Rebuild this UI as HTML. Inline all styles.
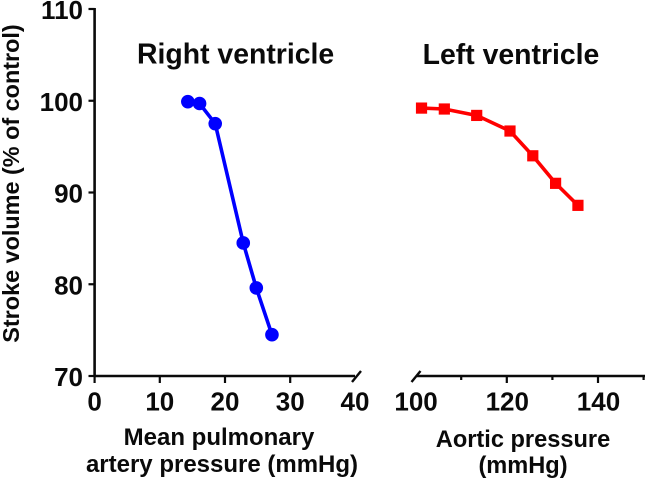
<!DOCTYPE html>
<html>
<head>
<meta charset="utf-8">
<style>
html,body{margin:0;padding:0;background:#fff;}
svg{display:block;}
text{font-family:"Liberation Sans",sans-serif;font-weight:bold;fill:#0a0a0a;}
</style>
</head>
<body>
<svg id="chart" width="645" height="480" viewBox="0 0 645 480" xmlns="http://www.w3.org/2000/svg">
<text transform="translate(19,183.5) rotate(-90)" text-anchor="middle" font-size="23.4">Stroke volume (% of control)</text>
<text x="137" y="63.5" font-size="28.4">Right ventricle</text>
<text x="511" y="64" text-anchor="middle" font-size="28.4">Left ventricle</text>
<text x="219" y="445" text-anchor="middle" font-size="24">Mean pulmonary</text>
<text x="222" y="472" text-anchor="middle" font-size="24">artery pressure (mmHg)</text>
<text x="523" y="447" text-anchor="middle" font-size="23.6">Aortic pressure</text>
<text x="523" y="473" text-anchor="middle" font-size="23.6">(mmHg)</text>
</svg>
<script>
var yTicks = [70, 80, 90, 100, 110];
var rightXTicks = [0, 10, 20, 30, 40];
var leftXMajorTicks = [100, 120, 140];
var leftXMinorTicks = [110, 130, 150];
var rvPressure = [14.3, 16.1, 18.5, 22.8, 24.8, 27.2];
var rvStrokeVolume = [99.9, 99.7, 97.5, 84.5, 79.6, 74.5];
var lvPressure = [101.3, 106.3, 113.4, 120.7, 125.7, 130.7, 135.6];
var lvStrokeVolume = [99.2, 99.1, 98.4, 96.7, 94.0, 91.0, 88.6];

var NS = 'http://www.w3.org/2000/svg';
var svg = document.getElementById('chart');
function yScale(v) { return 376 - (v - 70) * 9.175; }
function xRight(v) { return 94.6 + v * 6.52; }
function xLeft(v) { return 415.6 + (v - 100) * 4.56; }
function make(tag, attrs, text) {
  var el = document.createElementNS(NS, tag);
  for (var k in attrs) el.setAttribute(k, attrs[k]);
  if (text !== undefined) el.textContent = text;
  svg.appendChild(el);
  return el;
}
function stroke(x1, y1, x2, y2, w, color) {
  return make('line', {x1: x1, y1: y1, x2: x2, y2: y2, stroke: color || '#0a0a0a', 'stroke-width': w});
}
var el;

el = stroke(94.6, 8, 94.6, 377, 2.6);


el = stroke(94.6, 376, 355, 376, 2.4);


el = stroke(352, 382, 361, 371, 2.4);


el = stroke(417, 376, 645, 376, 2.4);


el = stroke(411.5, 382, 420.5, 371, 2.4);



yTicks.forEach(function (t) {
  var y = yScale(t);
  var mark = stroke(88.5, y, 94.6, y, 2.2);
  
  
  var label = make('text', {x: 83, y: y + 10, 'text-anchor': 'end', 'font-size': 26}, String(t));
  
  
});

rightXTicks.forEach(function (t) {
  var x = xRight(t);
  if (t !== 40) {
    var mark = stroke(x, 376, x, 383, 2.2);
    
    
  }
  var label = make('text', {x: t === 40 ? 355 : x, y: 410.5, 'text-anchor': 'middle', 'font-size': 26}, String(t));
  
  
});

leftXMajorTicks.forEach(function (t) {
  var x = xLeft(t);
  if (t !== 100) {
    var mark = stroke(x, 376, x, 383, 2.2);
    
    
  }
  var label = make('text', {x: x + 0.5, y: 410.5, 'text-anchor': 'middle', 'font-size': 26}, String(t));
  
  
});

leftXMinorTicks.forEach(function (t) {
  var x = xLeft(t);
  var mark = stroke(x, 376, x, 380, 2.2);
  
  
});

var rvPoints = rvPressure.map(function (p, i) { return xRight(p) + ',' + yScale(rvStrokeVolume[i]); }).join(' ');
el = make('polyline', {points: rvPoints, fill: 'none', stroke: '#0000ff', 'stroke-width': 3.6});


rvPressure.forEach(function (p, i) {
  var dot = make('circle', {cx: xRight(p), cy: yScale(rvStrokeVolume[i]), r: 6.8, fill: '#0000ff'});
  
  
});

var lvPoints = lvPressure.map(function (p, i) { return xLeft(p) + ',' + yScale(lvStrokeVolume[i]); }).join(' ');
el = make('polyline', {points: lvPoints, fill: 'none', stroke: '#ff0000', 'stroke-width': 3.6});


lvPressure.forEach(function (p, i) {
  var sq = make('rect', {x: xLeft(p) - 5.6, y: yScale(lvStrokeVolume[i]) - 5.6, width: 11.2, height: 11.2, fill: '#ff0000'});
  
  
});
</script>
</body>
</html>
